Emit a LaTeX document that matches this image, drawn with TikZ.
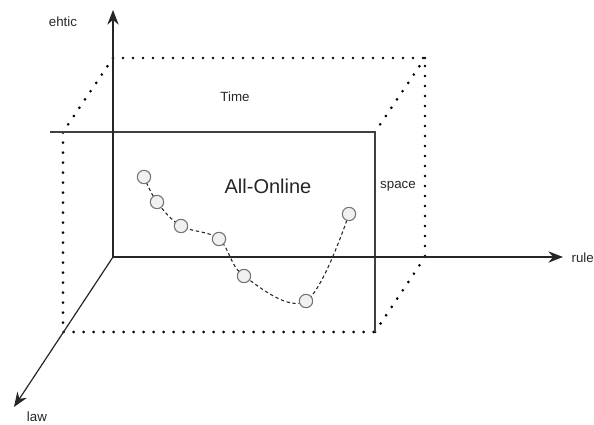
\documentclass[tikz,border=0pt]{standalone}
\usepackage{fontspec}
\setmainfont{Liberation Sans}
\usetikzlibrary{arrows.meta}

\begin{document}
\begin{tikzpicture}[x=0.75pt, y=-0.75pt,
    axis/.style={draw=black!85, line width=0.9pt, -{Stealth[length=11pt,width=8.5pt]}},
    edge/.style={draw=black!75, line width=0.9pt},
    dots/.style={line width=2.2pt, line cap=round, dash pattern=on 0pt off 7.5pt},
    point/.style={circle, draw=black!55, fill=black!6, line width=0.8pt, minimum size=10pt, inner sep=0pt},
    lbl/.style={font=\fontsize{10}{12}\selectfont, text=black!85}
]
    \useasboundingbox (0,0) rectangle (594,425);

    % Corners of the box
    \coordinate (O) at (113,257);
    \coordinate (btl) at (113,58);
    \coordinate (btr) at (425,58);
    \coordinate (bbr) at (425,257);
    \coordinate (ftl) at (63,132);
    \coordinate (ftr) at (375,132);
    \coordinate (fbr) at (375,332);
    \coordinate (fbl) at (63,332);
    \coordinate (topstart) at (50,132);

    % Axes ends
    \coordinate (ethicend) at (113,10);
    \coordinate (ruleend) at (563,257);
    \coordinate (lawend) at (14,407);

    % Dotted edges
    \draw[dots] (btl) -- (btr) -- (bbr);
    \draw[dots] (btl) -- (ftl) -- (fbl) -- (fbr);
    \draw[dots] (btr) -- (ftr);
    \draw[dots] (bbr) -- (fbr);

    % Solid edges
    \draw[edge] (topstart) -- (ftr) -- (fbr);

    % Axes
    \draw[axis] (O) -- (ethicend);
    \draw[axis] (O) -- (ruleend);
    \draw[axis] (O) -- (lawend);

    % Labels
    \node[lbl] (ethic) at (63,22) {ehtic};
    \node[lbl] (time) at (235,97) {Time};
    \node[lbl] (space) at (398,186) {space};
    \node[lbl, anchor=west, inner sep=1pt] (rule) at (570,258) {rule};
    \node[lbl] (law) at (37,417) {law};
    \node[font=\fontsize{15}{18}\selectfont, text=black!85] (online) at (268,186) {All-Online};

    % Trajectory
    \foreach \i/\x/\y in {1/144/177, 2/157/202, 3/181/226, 4/219/239, 5/244/276, 6/306/301, 7/349/214} {
        \coordinate (c\i) at (\x,\y);
    }
    \draw[black!85, line width=0.8pt, dash pattern=on 2.5pt off 2pt]
        plot[smooth, tension=0.6] coordinates {(c1) (c2) (c3) (c4) (c5) (c6) (c7)};
    \foreach \i in {1,...,7} {
        \node[point] (p\i) at (c\i) {};
    }
\end{tikzpicture}
\end{document}
